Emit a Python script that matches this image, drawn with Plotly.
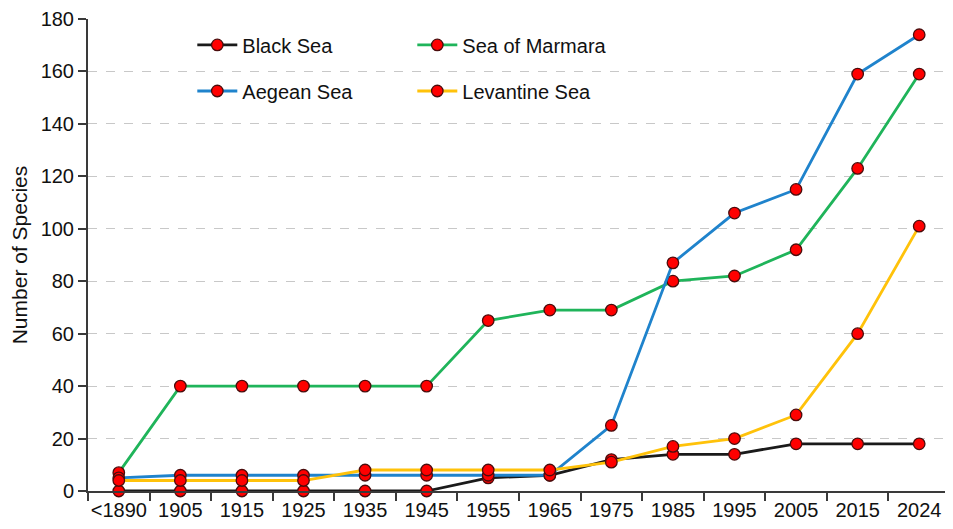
import plotly.graph_objects as go

periods = ["<1890", "1905", "1915", "1925", "1935", "1945", "1955",
           "1965", "1975", "1985", "1995", "2005", "2015", "2024"]
black_sea = [0, 0, 0, 0, 0, 0, 5, 6, 12, 14, 14, 18, 18, 18]
sea_of_marmara = [7, 40, 40, 40, 40, 40, 65, 69, 69, 80, 82, 92, 123, 159]
aegean_sea = [5, 6, 6, 6, 6, 6, 6, 6, 25, 87, 106, 115, 159, 174]
levantine_sea = [4, 4, 4, 4, 8, 8, 8, 8, 11, 17, 20, 29, 60, 101]

series = [
    ("Black Sea", black_sea, "#1a1a1a", "legend"),
    ("Sea of Marmara", sea_of_marmara, "#1fb45a", "legend"),
    ("Aegean Sea", aegean_sea, "#1f83cc", "legend2"),
    ("Levantine Sea", levantine_sea, "#ffc20a", "legend2"),
]

TICK_FONT = "Liberation Sans, Arial, sans-serif"
TEXT_FONT = "Liberation Sans, Arial, sans-serif"

fig = go.Figure()
for name, vals, color, lg in series:
    fig.add_trace(go.Scatter(
        x=periods, y=vals, name=name, mode="lines+markers",
        line=dict(color=color, width=2.8),
        marker=dict(color="#ff0000", size=11.5, line=dict(color="#4a0c0c", width=1.3)),
        cliponaxis=False, legend=lg,
    ))

legend_common = dict(
    orientation="h", xanchor="left", yanchor="middle",
    font=dict(family=TEXT_FONT, size=20, color="#111111"),
    bgcolor="rgba(0,0,0,0)", entrywidth=165, entrywidthmode="pixels",
    itemwidth=40, tracegroupgap=0,
)

# page body has an 8px margin, so the figure is sized to fit the window
fig.update_layout(
    width=945, height=521,
    margin=dict(l=80, r=3, t=11, b=38, autoexpand=False),
    paper_bgcolor="white", plot_bgcolor="white",
    showlegend=True,
    legend=dict(x=0.121, y=0.945, **legend_common),
    legend2=dict(x=0.121, y=0.8475, **legend_common),
    xaxis=dict(
        type="category", range=[-0.5, 13.5], automargin=False,
        showgrid=False, zeroline=False,
        showline=True, linecolor="#3a3a3a", linewidth=2,
        ticks="outside", tickson="boundaries", ticklen=8, tickwidth=1.5,
        tickcolor="#3a3a3a", tickangle=0,
        tickfont=dict(family=TICK_FONT, size=20, color="#111111"),
    ),
    yaxis=dict(
        range=[0, 180], tickvals=list(range(0, 181, 20)), automargin=False,
        showgrid=True, gridcolor="#c8c8c8", griddash="dash", gridwidth=1.2,
        zeroline=False,
        showline=True, linecolor="#3a3a3a", linewidth=2,
        ticks="outside", ticklen=8, tickwidth=1.5, tickcolor="#3a3a3a",
        tickfont=dict(family=TICK_FONT, size=20, color="#111111"),
        title=dict(text="Number of Species", standoff=10,
                   font=dict(family=TEXT_FONT, size=21, color="#111111")),
    ),
)

fig.write_html("out.html")
